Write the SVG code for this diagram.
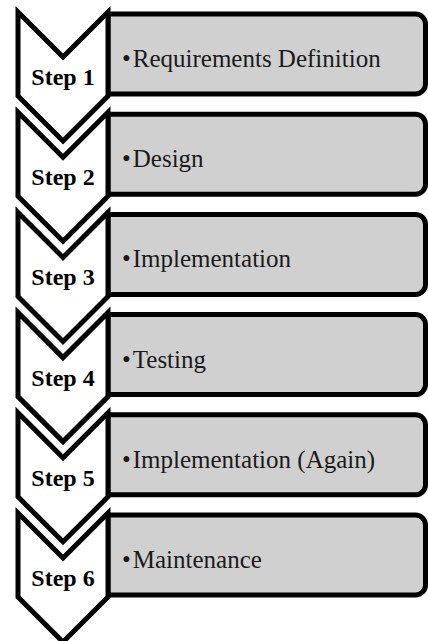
<svg xmlns="http://www.w3.org/2000/svg" width="428" height="641" viewBox="0 0 428 641">
<defs>
<style>
.box{fill:#d0d0d0;stroke:#000;stroke-width:5;stroke-linejoin:round}
.chev{fill:#fff;stroke:#000;stroke-width:5;stroke-linejoin:miter}
.step{font-family:"Liberation Serif","Times New Roman",serif;font-weight:bold;font-size:24px;fill:#000;text-anchor:middle}
.item{font-family:"Liberation Serif","Times New Roman",serif;font-size:25px;fill:#1a1a1a}
</style>
<path id="boxShape" d="M108,14 H415.5 A10,10 0 0 1 425.5,24 V84 A10,10 0 0 1 415.5,94 H108 Z"/>
<path id="chevShape" d="M18,12 L63,57 L108,12 L108,96 L63,141 L18,96 Z"/>
</defs>
<g id="connectors"></g>
<g id="step1" transform="translate(0,0)">
<use href="#boxShape" class="box"/><use href="#chevShape" class="chev"/>
<text class="step" x="63" y="85">Step 1</text>
<text class="item" x="122" y="67">•<tspan dx="2">Requirements Definition</tspan></text>
</g>
<g id="step2" transform="translate(0,100.2)">
<use href="#boxShape" class="box"/><use href="#chevShape" class="chev"/>
<text class="step" x="63" y="85">Step 2</text>
<text class="item" x="122" y="67">•<tspan dx="2">Design</tspan></text>
</g>
<g id="step3" transform="translate(0,200.4)">
<use href="#boxShape" class="box"/><use href="#chevShape" class="chev"/>
<text class="step" x="63" y="85">Step 3</text>
<text class="item" x="122" y="67">•<tspan dx="2">Implementation</tspan></text>
</g>
<g id="step4" transform="translate(0,300.6)">
<use href="#boxShape" class="box"/><use href="#chevShape" class="chev"/>
<text class="step" x="63" y="85">Step 4</text>
<text class="item" x="122" y="67">•<tspan dx="2">Testing</tspan></text>
</g>
<g id="step5" transform="translate(0,400.8)">
<use href="#boxShape" class="box"/><use href="#chevShape" class="chev"/>
<text class="step" x="63" y="85">Step 5</text>
<text class="item" x="122" y="67">•<tspan dx="2">Implementation (Again)</tspan></text>
</g>
<g id="step6" transform="translate(0,501)">
<use href="#boxShape" class="box"/><use href="#chevShape" class="chev"/>
<text class="step" x="63" y="85">Step 6</text>
<text class="item" x="122" y="67">•<tspan dx="2">Maintenance</tspan></text>
</g>
</svg>
